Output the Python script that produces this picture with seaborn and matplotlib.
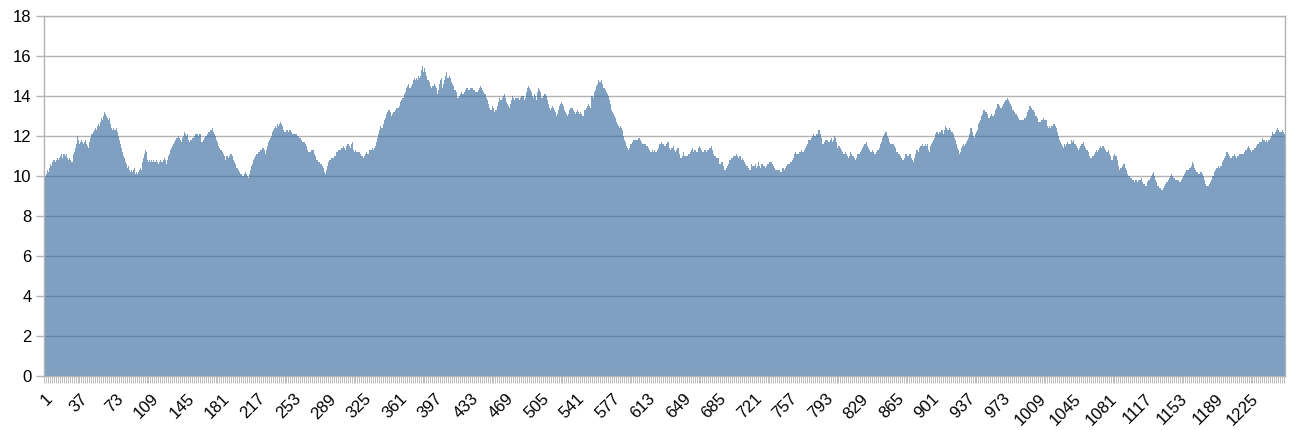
import numpy as np
import pandas as pd
import seaborn as sns
import matplotlib
matplotlib.use('Agg')
import matplotlib.pyplot as plt

# bar heights, in category order (1 .. 1259)
values_1_250 = [
    10.0, 10.0, 10.1, 10.3, 10.2, 10.4, 10.6, 10.5, 10.7, 10.8,
    10.8, 10.7, 10.8, 10.9, 10.8, 10.9, 11.0, 11.1, 10.9, 11.1,
    11.1, 11.0, 11.1, 10.9, 10.8, 10.9, 10.8, 10.7, 10.7, 11.1,
    11.2, 11.4, 11.6, 12.0, 11.7, 11.8, 11.6, 11.7, 11.8, 11.7,
    11.6, 11.7, 11.8, 11.6, 11.5, 11.4, 11.7, 11.9, 12.1, 12.1,
    12.2, 12.3, 12.4, 12.3, 12.5, 12.6, 12.5, 12.7, 12.9, 12.8,
    13.0, 13.2, 13.1, 13.0, 12.9, 12.8, 12.9, 12.6, 12.4, 12.3,
    12.4, 12.3, 12.3, 12.4, 12.2, 12.0, 11.8, 11.6, 11.4, 11.2,
    11.0, 10.9, 10.7, 10.6, 10.4, 10.5, 10.3, 10.2, 10.3, 10.2,
    10.3, 10.4, 10.1, 10.2, 10.1, 10.2, 10.3, 10.4, 10.3, 10.7,
    10.9, 11.1, 11.3, 11.2, 11.0, 10.8, 10.7, 10.8, 10.7, 10.8,
    10.7, 10.8, 10.7, 10.7, 10.8, 10.7, 10.6, 10.7, 10.8, 10.7,
    10.7, 10.8, 10.9, 10.8, 10.6, 10.8, 11.0, 11.1, 11.3, 11.4,
    11.5, 11.6, 11.7, 11.8, 11.9, 11.9, 12.0, 11.9, 11.8, 11.7,
    11.9, 12.0, 12.2, 12.1, 12.0, 12.1, 11.8, 11.7, 11.8, 11.8,
    11.9, 11.9, 12.0, 12.1, 12.1, 12.1, 12.0, 12.1, 12.1, 11.7,
    11.7, 11.8, 11.9, 12.0, 12.0, 12.1, 12.2, 12.2, 12.3, 12.3,
    12.4, 12.2, 12.1, 12.0, 12.0, 11.8, 11.7, 11.5, 11.4, 11.3,
    11.3, 11.2, 11.1, 11.0, 10.8, 11.0, 11.0, 10.9, 11.0, 11.1,
    11.1, 11.0, 10.8, 10.7, 10.6, 10.4, 10.4, 10.3, 10.2, 10.1,
    10.1, 10.0, 10.0, 10.1, 10.2, 10.1, 10.0, 9.9, 10.1, 10.3,
    10.5, 10.6, 10.8, 10.9, 11.0, 11.1, 11.1, 11.2, 11.2, 11.3,
    11.3, 11.4, 11.4, 11.3, 11.1, 11.3, 11.5, 11.7, 11.8, 11.9,
    12.0, 12.2, 12.3, 12.4, 12.5, 12.4, 12.6, 12.5, 12.6, 12.7,
    12.6, 12.5, 12.3, 12.2, 12.3, 12.2, 12.3, 12.3, 12.2, 12.3,
]
values_251_500 = [
    12.3, 12.2, 12.1, 12.1, 12.1, 12.1, 12.1, 12.0, 12.0, 11.9,
    11.9, 11.8, 11.7, 11.7, 11.7, 11.6, 11.5, 11.3, 11.2, 11.2,
    11.2, 11.3, 11.3, 11.3, 11.1, 11.0, 10.8, 10.8, 10.7, 10.7,
    10.6, 10.6, 10.5, 10.4, 10.2, 10.1, 10.3, 10.5, 10.7, 10.8,
    10.8, 10.9, 10.9, 10.9, 11.0, 11.0, 11.2, 11.2, 11.3, 11.3,
    11.3, 11.4, 11.4, 11.5, 11.4, 11.3, 11.5, 11.6, 11.6, 11.5,
    11.4, 11.6, 11.7, 11.3, 11.3, 11.2, 11.3, 11.2, 11.2, 11.2,
    11.2, 11.1, 11.0, 11.0, 10.9, 11.0, 11.1, 11.2, 11.1, 11.1,
    11.3, 11.3, 11.3, 11.4, 11.3, 11.4, 11.5, 11.7, 11.9, 12.1,
    12.3, 12.5, 12.4, 12.4, 12.6, 12.8, 12.9, 13.1, 13.2, 13.3,
    13.3, 13.2, 13.0, 13.1, 13.2, 13.2, 13.3, 13.4, 13.4, 13.4,
    13.5, 13.7, 13.8, 13.9, 13.9, 14.1, 14.2, 14.4, 14.5, 14.6,
    14.4, 14.4, 14.5, 14.6, 14.8, 14.9, 14.8, 14.9, 14.8, 15.0,
    14.9, 15.0, 15.3, 15.5, 15.2, 15.2, 15.4, 15.2, 15.0, 14.8,
    14.8, 14.7, 14.5, 14.4, 14.5, 14.5, 14.6, 14.5, 14.4, 14.1,
    14.3, 14.6, 14.8, 14.9, 14.4, 14.6, 14.8, 15.0, 15.2, 14.9,
    14.9, 15.0, 14.9, 14.7, 14.6, 14.5, 14.3, 14.3, 14.2, 13.9,
    13.9, 14.0, 14.1, 14.2, 14.1, 14.1, 14.2, 14.3, 14.4, 14.4,
    14.3, 14.3, 14.4, 14.4, 14.4, 14.3, 14.3, 14.2, 14.2, 14.2,
    14.3, 14.4, 14.5, 14.4, 14.3, 14.2, 14.1, 14.1, 13.9, 13.8,
    13.6, 13.4, 13.3, 13.3, 13.4, 13.5, 13.4, 13.2, 13.3, 13.3,
    13.5, 13.7, 13.9, 13.8, 13.8, 13.9, 14.0, 14.1, 13.9, 13.7,
    13.6, 13.5, 13.4, 13.6, 13.8, 14.0, 13.9, 13.8, 13.9, 13.9,
    13.9, 13.9, 13.8, 13.9, 14.0, 14.0, 14.0, 13.8, 13.9, 14.2,
    14.4, 14.5, 14.4, 14.3, 14.2, 14.0, 13.9, 14.1, 14.0, 13.8,
]
values_501_750 = [
    14.2, 14.4, 14.3, 14.2, 13.9, 13.9, 14.0, 14.1, 14.1, 14.0,
    13.8, 13.6, 13.4, 13.3, 13.4, 13.5, 13.4, 13.3, 13.2, 13.0,
    13.1, 13.3, 13.5, 13.6, 13.6, 13.7, 13.6, 13.5, 13.3, 13.2,
    13.1, 13.0, 13.1, 13.3, 13.4, 13.4, 13.4, 13.3, 13.2, 13.1,
    13.2, 13.3, 13.2, 13.1, 13.2, 13.1, 13.0, 13.0, 13.3, 13.3,
    13.4, 13.5, 13.6, 13.5, 13.4, 14.0, 14.0, 13.9, 14.2, 14.3,
    14.5, 14.6, 14.8, 14.7, 14.7, 14.8, 14.6, 14.4, 14.4, 14.3,
    14.2, 14.1, 14.0, 13.8, 13.6, 13.3, 13.2, 13.1, 13.0, 12.9,
    12.7, 12.6, 12.5, 12.4, 12.5, 12.4, 12.3, 12.0, 11.8, 11.7,
    11.5, 11.4, 11.3, 11.4, 11.4, 11.6, 11.6, 11.7, 11.8, 11.8,
    11.8, 11.8, 11.8, 11.9, 11.9, 11.8, 11.7, 11.6, 11.6, 11.6,
    11.6, 11.5, 11.5, 11.4, 11.3, 11.2, 11.2, 11.3, 11.2, 11.3,
    11.2, 11.2, 11.3, 11.4, 11.6, 11.6, 11.7, 11.6, 11.6, 11.5,
    11.5, 11.6, 11.7, 11.7, 11.4, 11.3, 11.4, 11.4, 11.5, 11.3,
    11.2, 11.3, 11.4, 11.4, 11.1, 10.9, 10.9, 11.0, 11.2, 11.0,
    11.0, 11.0, 11.0, 11.1, 11.1, 11.2, 11.3, 11.4, 11.2, 11.3,
    11.3, 11.2, 11.2, 11.4, 11.4, 11.5, 11.4, 11.3, 11.2, 11.2,
    11.3, 11.3, 11.2, 11.3, 11.3, 11.4, 11.4, 11.5, 11.3, 11.1,
    11.0, 11.0, 10.9, 10.9, 10.9, 10.6, 10.6, 10.7, 10.7, 10.5,
    10.3, 10.3, 10.4, 10.5, 10.6, 10.8, 10.8, 10.9, 10.9, 11.0,
    11.0, 11.0, 11.1, 11.0, 10.9, 11.0, 11.0, 10.8, 10.9, 10.8,
    10.7, 10.6, 10.5, 10.5, 10.4, 10.3, 10.3, 10.6, 10.5, 10.5,
    10.5, 10.6, 10.4, 10.5, 10.7, 10.5, 10.4, 10.6, 10.6, 10.5,
    10.5, 10.4, 10.5, 10.6, 10.6, 10.6, 10.7, 10.7, 10.7, 10.6,
    10.5, 10.4, 10.3, 10.3, 10.3, 10.3, 10.3, 10.2, 10.2, 10.4,
]
values_751_1000 = [
    10.4, 10.3, 10.4, 10.5, 10.6, 10.6, 10.6, 10.7, 10.7, 10.8,
    10.9, 11.1, 11.2, 11.1, 11.1, 11.1, 11.2, 11.2, 11.3, 11.2,
    11.2, 11.3, 11.4, 11.5, 11.6, 11.8, 11.8, 11.8, 11.9, 12.0,
    12.1, 12.0, 12.0, 12.1, 12.1, 12.3, 12.3, 12.1, 11.9, 11.6,
    11.6, 11.7, 11.8, 11.8, 11.8, 11.7, 11.7, 11.8, 11.9, 11.7,
    11.8, 12.0, 11.9, 11.7, 11.5, 11.4, 11.5, 11.5, 11.4, 11.3,
    11.2, 11.1, 11.1, 11.2, 11.1, 11.0, 10.9, 11.0, 11.2, 11.1,
    11.0, 11.0, 10.9, 10.8, 10.9, 11.1, 11.1, 11.1, 11.2, 11.3,
    11.4, 11.5, 11.6, 11.6, 11.7, 11.5, 11.4, 11.3, 11.2, 11.2,
    11.3, 11.2, 11.1, 11.1, 11.2, 11.3, 11.3, 11.4, 11.6, 11.7,
    11.9, 12.0, 12.1, 12.2, 12.2, 12.0, 11.9, 11.7, 11.6, 11.6,
    11.6, 11.6, 11.5, 11.4, 11.2, 11.2, 11.1, 11.1, 11.0, 10.9,
    10.8, 10.8, 10.9, 11.1, 11.2, 11.1, 11.0, 11.0, 11.1, 11.1,
    10.9, 10.8, 10.7, 10.9, 11.1, 11.3, 11.3, 11.2, 11.4, 11.5,
    11.5, 11.6, 11.5, 11.5, 11.6, 11.5, 11.6, 11.3, 11.2, 11.5,
    11.6, 11.7, 11.8, 11.9, 12.1, 12.2, 12.2, 12.1, 12.2, 12.2,
    12.3, 12.3, 12.1, 12.3, 12.5, 12.4, 12.3, 12.3, 12.4, 12.3,
    12.2, 12.2, 12.1, 11.9, 11.8, 11.6, 11.4, 11.3, 11.1, 11.2,
    11.4, 11.5, 11.6, 11.5, 11.6, 11.7, 11.8, 11.9, 12.1, 12.4,
    12.4, 12.2, 12.0, 11.9, 11.9, 12.1, 12.2, 12.3, 12.6, 12.7,
    12.8, 13.0, 13.1, 13.3, 13.3, 13.2, 13.2, 13.1, 12.9, 12.9,
    13.0, 13.1, 13.0, 13.0, 13.1, 13.3, 13.4, 13.6, 13.6, 13.5,
    13.4, 13.4, 13.5, 13.6, 13.7, 13.8, 13.8, 13.9, 13.8, 13.7,
    13.6, 13.5, 13.3, 13.3, 13.2, 13.1, 13.1, 13.0, 12.9, 12.8,
    12.8, 12.8, 12.8, 12.8, 12.9, 12.9, 13.0, 13.2, 13.3, 13.5,
]
values_1001_1259 = [
    13.5, 13.4, 13.3, 13.3, 13.2, 13.0, 13.0, 12.9, 12.7, 12.7,
    12.7, 12.8, 12.8, 12.9, 12.9, 12.8, 12.8, 12.8, 12.5, 12.4,
    12.5, 12.4, 12.5, 12.5, 12.6, 12.6, 12.5, 12.4, 12.2, 12.0,
    11.8, 11.7, 11.6, 11.5, 11.4, 11.6, 11.5, 11.6, 11.7, 11.6,
    11.6, 11.6, 11.8, 11.7, 11.8, 11.6, 11.6, 11.5, 11.4, 11.3,
    11.4, 11.5, 11.6, 11.6, 11.7, 11.5, 11.4, 11.3, 11.3, 11.2,
    11.0, 10.9, 10.9, 11.0, 11.0, 11.1, 11.2, 11.3, 11.2, 11.3,
    11.4, 11.5, 11.4, 11.5, 11.5, 11.4, 11.3, 11.2, 11.2, 11.3,
    11.1, 11.0, 10.8, 10.8, 10.9, 11.0, 11.1, 11.0, 11.0, 10.8,
    10.5, 10.3, 10.4, 10.4, 10.5, 10.6, 10.6, 10.4, 10.3, 10.1,
    10.0, 10.0, 9.9, 9.9, 9.8, 9.8, 9.7, 9.8, 9.8, 9.7,
    9.8, 9.8, 9.8, 9.9, 9.7, 9.6, 9.6, 9.5, 9.5, 9.7,
    9.8, 9.8, 9.9, 10.0, 10.1, 10.2, 10.0, 9.8, 9.7, 9.5,
    9.5, 9.4, 9.4, 9.3, 9.3, 9.4, 9.5, 9.6, 9.7, 9.7,
    9.8, 9.9, 10.0, 10.1, 10.0, 9.9, 9.9, 9.8, 9.8, 9.8,
    9.8, 9.7, 9.7, 9.8, 9.9, 9.9, 10.0, 10.1, 10.2, 10.3,
    10.3, 10.3, 10.4, 10.4, 10.5, 10.7, 10.6, 10.4, 10.3, 10.2,
    10.2, 10.1, 10.1, 10.2, 10.2, 10.1, 10.0, 9.8, 9.6, 9.5,
    9.5, 9.5, 9.6, 9.7, 9.8, 10.0, 10.0, 10.2, 10.3, 10.4,
    10.4, 10.5, 10.4, 10.5, 10.5, 10.7, 10.8, 10.9, 11.0, 11.2,
    11.2, 11.1, 11.0, 10.9, 10.9, 11.0, 11.0, 11.1, 11.0, 10.9,
    11.0, 11.0, 11.1, 11.1, 11.1, 11.1, 11.1, 11.2, 11.3, 11.3,
    11.4, 11.5, 11.4, 11.3, 11.2, 11.2, 11.3, 11.3, 11.4, 11.4,
    11.5, 11.6, 11.6, 11.7, 11.7, 11.7, 11.9, 11.8, 11.8, 11.7,
    11.8, 11.7, 11.8, 11.8, 11.9, 12.0, 12.2, 12.1, 12.1, 12.2,
    12.3, 12.4, 12.3, 12.2, 12.2, 12.2, 12.3, 12.2, 12.1,
]

values = values_1_250 + values_251_500 + values_501_750 + values_751_1000 + values_1001_1259
categories = [str(i) for i in range(1, len(values) + 1)]
tick_step = 36

plt.rcParams['font.family'] = ['Liberation Sans', 'DejaVu Sans']

df = pd.DataFrame({'category': categories, 'value': values})

fig = plt.figure(figsize=(13.02, 4.3), dpi=100)
ax = fig.add_axes([44 / 1302, 54 / 430, 1241 / 1302, 360 / 430])

sns.barplot(data=df, x='category', y='value', order=categories, color='#3a6e9f',
            saturation=1, alpha=0.65, width=1.0, linewidth=0, ax=ax)

n = len(values)
ax.set_xlim(-0.5, n - 0.5)
ax.set_ylim(0, 18)
ax.set_yticks(range(0, 19, 2))
ax.yaxis.grid(True, color='#b3b3b3', linewidth=1)
ax.xaxis.grid(False)
ax.set_axisbelow(True)
for side in ['left', 'right', 'top', 'bottom']:
    ax.spines[side].set_color('#b3b3b3')
    ax.spines[side].set_linewidth(1)

ax.set_xticks(range(0, n, tick_step))
ax.set_xticklabels(categories[::tick_step], rotation=45, ha='right', rotation_mode='anchor')
ax.set_xticks(np.arange(-0.5, n, 2), minor=True)
ax.tick_params(axis='x', which='major', length=0, pad=11, labelsize=12, labelcolor='black')
ax.tick_params(axis='x', which='minor', length=5, width=0.6, color='#b3b3b3')
ax.tick_params(axis='y', length=6, width=1, color='#b3b3b3', pad=3, labelsize=12, labelcolor='black')
ax.set_xlabel('')
ax.set_ylabel('')

fig.savefig('out.png', dpi=100)
